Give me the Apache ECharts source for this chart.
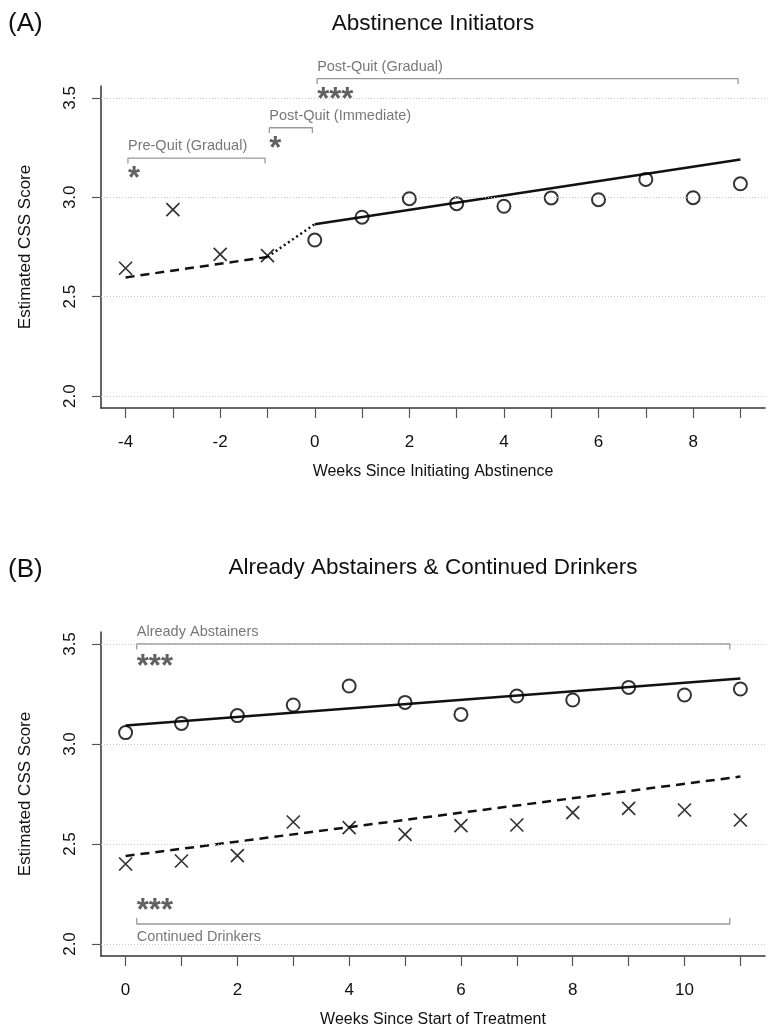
<!DOCTYPE html>
<html><head><meta charset="utf-8">
<script src="https://cdn.jsdelivr.net/npm/echarts@6/dist/echarts.min.js"></script>
<style>html,body{margin:0;padding:0;background:#fff}#c{width:775px;height:1035px}</style>
</head><body><div id="c"></div>
<script>
const FONT = '"Liberation Sans", Arial, Helvetica, sans-serif';

// ---------- Panel A: Abstinence Initiators ----------
const weeksPreA = [-4, -3, -2, -1];
const cssPreA = [2.643, 2.938, 2.713, 2.707];
const weeksPostA = [0, 1, 2, 3, 4, 5, 6, 7, 8, 9];
const cssPostA = [2.785, 2.900, 2.993, 2.968, 2.955, 2.997, 2.988, 3.090, 2.998, 3.068];
const fitPreA_x = [-4, -1];  const fitPreA_y = [2.597, 2.700];
const fitImmA_x = [-1, 0];   const fitImmA_y = [2.700, 2.865];
const fitPostA_x = [0, 9];   const fitPostA_y = [2.865, 3.190];
const xTicksA = [-4, -3, -2, -1, 0, 1, 2, 3, 4, 5, 6, 7, 8, 9];
const xLabelsA = [-4, -2, 0, 2, 4, 6, 8];
const xRangeA = [-4.52, 9.52];

// ---------- Panel B: Already Abstainers & Continued Drinkers ----------
const weeksB = [0, 1, 2, 3, 4, 5, 6, 7, 8, 9, 10, 11];
const cssAbstB = [3.057, 3.103, 3.142, 3.195, 3.290, 3.208, 3.148, 3.240, 3.220, 3.283, 3.245, 3.275];
const cssDrinkB = [2.400, 2.415, 2.442, 2.610, 2.582, 2.548, 2.592, 2.595, 2.657, 2.678, 2.670, 2.620];
const fitAbstB_x = [0, 11];  const fitAbstB_y = [3.092, 3.327];
const fitDrinkB_x = [0, 11]; const fitDrinkB_y = [2.440, 2.837];
const xTicksB = [0, 1, 2, 3, 4, 5, 6, 7, 8, 9, 10, 11];
const xLabelsB = [0, 2, 4, 6, 8, 10];
const xRangeB = [-0.44, 11.44];

const yTicks = [2.0, 2.5, 3.0, 3.5];
const yRange = [1.94, 3.56];

// ---------- Significance brackets ----------
const brLabelA = ['Pre-Quit (Gradual)', 'Post-Quit (Immediate)', 'Post-Quit (Gradual)'];
const brStartA = [-3.95, -0.96, 0.05];
const brEndA   = [-1.05, -0.05, 8.95];
const brLevelA = [3.197, 3.350, 3.597];
const brTickA  = [-0.027, -0.027, -0.027];
const brLabelYA = [3.258, 3.410, 3.658];
const brStarsA = ['*', '*', '***'];
const brStarYA = [3.092, 3.242, 3.486];

const brLabelB = ['Already Abstainers', 'Continued Drinkers'];
const brStartB = [0.20, 0.20];
const brEndB   = [10.81, 10.81];
const brLevelB = [3.500, 2.100];
const brTickB  = [-0.027, 0.030];
const brLabelYB = [3.562, 2.035];
const brStarsB = ['***', '***'];
const brStarYB = [3.384, 2.164];

const zip = (xs, ys) => xs.map((x, i) => [x, ys[i]]);

const gridTop = [86, 632];
const gridH = [322, 324];

function xAxis(gi, range, ticks, labels, name) {
  return {
    gridIndex: gi, type: 'value', min: range[0], max: range[1],
    axisLine: { onZero: false, lineStyle: { color: '#333', width: 1.5 } },
    axisTick: { customValues: ticks, length: 10, lineStyle: { color: '#555', width: 1.2 } },
    axisLabel: { customValues: labels, fontSize: 17, color: '#111', margin: 26, fontFamily: FONT,
                 formatter: v => String(Math.round(v)) },
    splitLine: { show: false },
    name: name, nameLocation: 'middle', nameGap: 56,
    nameTextStyle: { fontSize: 16, color: '#111', fontFamily: FONT }
  };
}
function yAxis(gi) {
  return {
    gridIndex: gi, type: 'value', min: yRange[0], max: yRange[1],
    axisLine: { show: true, onZero: false, lineStyle: { color: '#333', width: 1.5 } },
    axisTick: { show: true, customValues: yTicks, length: 9, lineStyle: { color: '#555', width: 1.2 } },
    axisLabel: { customValues: yTicks, fontSize: 17, color: '#111', margin: 22, rotate: 90,
                 fontFamily: FONT, formatter: v => v.toFixed(1) },
    splitLine: { show: false },
    name: 'Estimated CSS Score', nameLocation: 'middle', nameGap: 67, nameRotate: 90,
    nameTextStyle: { fontSize: 17, color: '#111', fontFamily: FONT }
  };
}

function fitLine(gi, xs, ys, type, width, withGrid) {
  const s = {
    type: 'line', xAxisIndex: gi, yAxisIndex: gi, data: zip(xs, ys),
    showSymbol: false, symbol: 'none', silent: true, z: 3,
    lineStyle: { color: '#111', width: width, type: type }
  };
  if (withGrid) {
    s.markLine = {
      silent: true, symbol: 'none', label: { show: false },
      lineStyle: { type: [1, 2], color: '#c8c8c8', width: 1 },
      data: yTicks.map(v => ({ yAxis: v }))
    };
  }
  return s;
}

const crossSym = 'path://M0,0L10,10M10,0L0,10';
function points(gi, xs, ys, sym) {
  return {
    type: 'scatter', xAxisIndex: gi, yAxisIndex: gi, data: zip(xs, ys),
    symbol: sym === 'x' ? crossSym : 'circle', symbolSize: sym === 'x' ? 13 : 13,
    itemStyle: { color: 'transparent', borderColor: '#000', borderWidth: sym === 'x' ? 1.7 : 2 },
    silent: true, z: 4
  };
}

function brackets(gi, starts, ends, levels, ticks) {
  return starts.map((x1, i) => ({
    type: 'line', xAxisIndex: gi, yAxisIndex: gi, clip: false, silent: true,
    showSymbol: false, symbol: 'none', z: 2,
    lineStyle: { color: '#999', width: 1.3 },
    data: [[x1, levels[i] + ticks[i]], [x1, levels[i]], [ends[i], levels[i]], [ends[i], levels[i] + ticks[i]]]
  }));
}
function texts(gi, xs, ys, strs, size, color, weight) {
  return {
    type: 'scatter', xAxisIndex: gi, yAxisIndex: gi, clip: false, silent: true,
    symbolSize: 0, z: 5,
    data: xs.map((x, i) => ({ value: [x, ys[i]], label: { formatter: strs[i] } })),
    label: { show: true, position: 'right', distance: 0, align: 'left', verticalAlign: 'middle',
             fontSize: size, color: color, fontFamily: FONT, fontWeight: weight || 'normal' }
  };
}

const option = {
  animation: false,
  backgroundColor: '#fff',
  grid: [
    { left: 101, right: 10, top: gridTop[0], height: gridH[0] },
    { left: 101, right: 10, top: gridTop[1], height: gridH[1] }
  ],
  xAxis: [
    xAxis(0, xRangeA, xTicksA, xLabelsA, 'Weeks Since Initiating Abstinence'),
    xAxis(1, xRangeB, xTicksB, xLabelsB, 'Weeks Since Start of Treatment')
  ],
  yAxis: [yAxis(0), yAxis(1)],
  graphic: [
    { type: 'text', x: 8, y: 24, style: { text: '(A)', fontSize: 26, fontFamily: FONT, fill: '#111', textVerticalAlign: 'middle' } },
    { type: 'text', x: 433, y: 24, style: { text: 'Abstinence Initiators', fontSize: 22.5, fontFamily: FONT, fill: '#111', textAlign: 'center', textVerticalAlign: 'middle' } },
    { type: 'text', x: 8, y: 570, style: { text: '(B)', fontSize: 26, fontFamily: FONT, fill: '#111', textVerticalAlign: 'middle' } },
    { type: 'text', x: 433, y: 568, style: { text: 'Already Abstainers & Continued Drinkers', fontSize: 22.5, fontFamily: FONT, fill: '#111', textAlign: 'center', textVerticalAlign: 'middle' } }
  ],
  series: [
    fitLine(0, fitPreA_x, fitPreA_y, [9, 6], 2.5, true),
    fitLine(0, fitImmA_x, fitImmA_y, [2, 3], 2.5, false),
    fitLine(0, fitPostA_x, fitPostA_y, 'solid', 2.5, false),
    points(0, weeksPreA, cssPreA, 'x'),
    points(0, weeksPostA, cssPostA, 'o'),
    ...brackets(0, brStartA, brEndA, brLevelA, brTickA),
    texts(0, brStartA, brLabelYA, brLabelA, 14.5, '#555'),
    texts(0, brStartA, brStarYA, brStarsA, 31, '#3a3a3a', 'bold'),

    fitLine(1, fitAbstB_x, fitAbstB_y, 'solid', 2.5, true),
    fitLine(1, fitDrinkB_x, fitDrinkB_y, [9, 6], 2.5, false),
    points(1, weeksB, cssAbstB, 'o'),
    points(1, weeksB, cssDrinkB, 'x'),
    ...brackets(1, brStartB, brEndB, brLevelB, brTickB),
    texts(1, brStartB, brLabelYB, brLabelB, 14.5, '#555'),
    texts(1, brStartB, brStarYB, brStarsB, 31, '#3a3a3a', 'bold')
  ]
};
echarts.init(document.getElementById('c')).setOption(option);
</script></body></html>
